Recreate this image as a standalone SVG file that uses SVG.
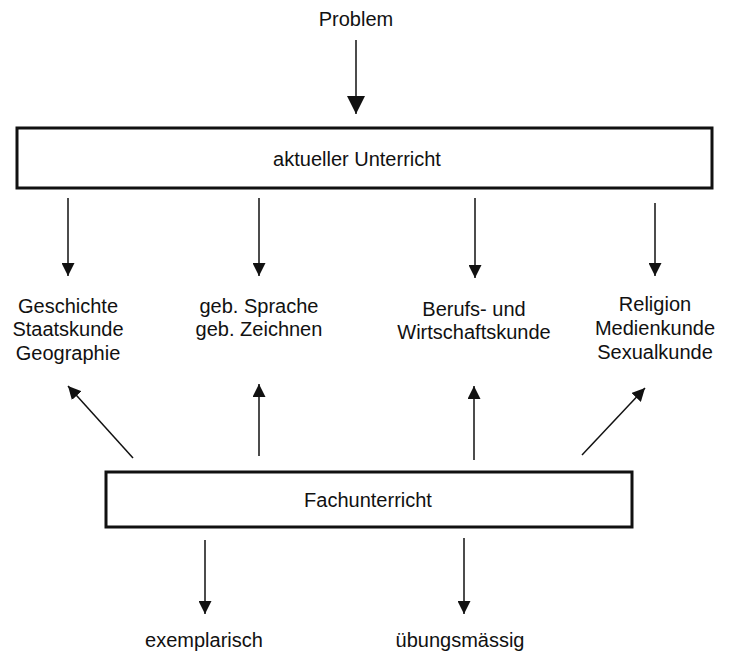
<svg xmlns="http://www.w3.org/2000/svg" width="734" height="652" viewBox="0 0 734 652">
<style>
text{font-family:"Liberation Sans",Arial,sans-serif;font-size:20px;fill:#111;text-anchor:middle}
.box{fill:#fff;stroke:#111;stroke-width:3}
.ln{stroke:#111;stroke-width:1.5;fill:none}
</style>
<defs>
<marker id="ah" viewBox="0 0 10 10" refX="10" refY="5" markerWidth="13" markerHeight="13" markerUnits="userSpaceOnUse" orient="auto"><path d="M0,0L10,5L0,10z" fill="#111"/></marker>
<marker id="ahL" viewBox="0 0 10 10" refX="10" refY="5" markerWidth="18" markerHeight="18" markerUnits="userSpaceOnUse" orient="auto"><path d="M0,0L10,5L0,10z" fill="#111"/></marker>
</defs>
<rect width="734" height="652" fill="#fff"/>
<g id="problem"><text x="356" y="26">Problem</text></g>
<g id="aktuell"><rect class="box" x="17" y="128" width="695" height="60"/><text x="357" y="166">aktueller Unterricht</text></g>
<g id="gesch"><text x="68" y="313">Geschichte</text><text x="68" y="336">Staatskunde</text><text x="68" y="360">Geographie</text></g>
<g id="sprache"><text x="259" y="313">geb. Sprache</text><text x="259" y="336">geb. Zeichnen</text></g>
<g id="beruf"><text x="474" y="316">Berufs- und</text><text x="474" y="339">Wirtschaftskunde</text></g>
<g id="religion"><text x="655" y="311">Religion</text><text x="655" y="335">Medienkunde</text><text x="655" y="359">Sexualkunde</text></g>
<g id="fach"><rect class="box" x="106" y="472" width="526" height="55"/><text x="368" y="507">Fachunterricht</text></g>
<g id="exempl"><text x="204" y="647">exemplarisch</text></g>
<g id="uebung"><text x="460" y="647">übungsmässig</text></g>
<g id="connectors">
<line class="ln" x1="356" y1="40" x2="356" y2="114" marker-end="url(#ahL)"/>
<line class="ln" x1="68" y1="198" x2="68" y2="276" marker-end="url(#ah)"/>
<line class="ln" x1="259" y1="198" x2="259" y2="276" marker-end="url(#ah)"/>
<line class="ln" x1="475" y1="198" x2="475" y2="278" marker-end="url(#ah)"/>
<line class="ln" x1="655" y1="203" x2="655" y2="276" marker-end="url(#ah)"/>
<line class="ln" x1="133" y1="458" x2="68" y2="386" marker-end="url(#ah)"/>
<line class="ln" x1="259" y1="456" x2="259" y2="384" marker-end="url(#ah)"/>
<line class="ln" x1="474" y1="460" x2="474" y2="386" marker-end="url(#ah)"/>
<line class="ln" x1="582" y1="455" x2="645" y2="388" marker-end="url(#ah)"/>
<line class="ln" x1="205" y1="540" x2="205" y2="614" marker-end="url(#ah)"/>
<line class="ln" x1="464" y1="538" x2="464" y2="614" marker-end="url(#ah)"/>
</g>
</svg>
